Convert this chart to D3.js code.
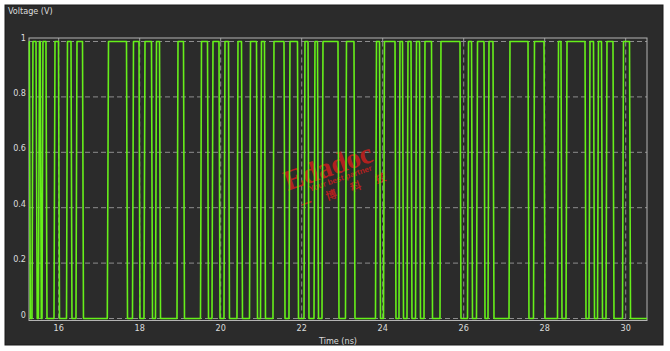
<!DOCTYPE html>
<html>
<head>
<meta charset="utf-8">
<script src="https://cdn.jsdelivr.net/npm/d3@7"></script>
<style>
  html, body { margin: 0; padding: 0; background: #ffffff; }
  svg { display: block; }
</style>
</head>
<body>
<div class="vis-wave"></div>
<script>
// time axis ticks (ns) and voltage ticks (V)
const xTicks = [16, 18, 20, 22, 24, 26, 28, 30];
const yTicks = [0, 0.2, 0.4, 0.6, 0.8, 1];
const timeRange = [15.267, 30.526];

// each pulse: [rise start (0V), top reached (1V), fall start (1V), back to 0V]  in ns
const pulses = [
  [15.267, 15.267, 15.275, 15.300],
  [15.341, 15.365, 15.440, 15.470],
  [15.500, 15.525, 15.545, 15.570],
  [15.588, 15.612, 15.686, 15.711],
  [15.884, 15.909, 15.995, 16.020],
  [16.193, 16.217, 16.304, 16.328],
  [16.427, 16.452, 16.588, 16.612],
  [17.200, 17.230, 17.674, 17.699],
  [17.822, 17.847, 17.983, 18.007],
  [18.106, 18.131, 18.291, 18.316],
  [18.390, 18.415, 18.489, 18.514],
  [18.921, 18.946, 19.081, 19.106],
  [19.501, 19.526, 19.674, 19.699],
  [19.785, 19.810, 19.958, 19.983],
  [20.081, 20.106, 20.193, 20.217],
  [20.402, 20.427, 20.514, 20.538],
  [20.711, 20.736, 20.884, 20.909],
  [20.983, 21.007, 21.081, 21.106],
  [21.291, 21.316, 21.563, 21.588],
  [21.686, 21.711, 21.896, 21.921],
  [22.057, 22.081, 22.156, 22.180],
  [22.304, 22.328, 22.390, 22.415],
  [22.501, 22.526, 22.896, 22.921],
  [23.081, 23.106, 23.291, 23.316],
  [23.822, 23.847, 23.921, 23.946],
  [24.020, 24.044, 24.304, 24.328],
  [24.402, 24.427, 24.489, 24.514],
  [24.600, 24.625, 24.699, 24.723],
  [24.810, 24.835, 24.909, 24.933],
  [25.020, 25.044, 25.205, 25.230],
  [25.415, 25.439, 25.909, 25.933],
  [26.094, 26.119, 26.193, 26.217],
  [26.316, 26.341, 26.501, 26.526],
  [26.600, 26.625, 26.723, 26.748],
  [27.119, 27.143, 27.588, 27.612],
  [27.723, 27.748, 27.983, 28.007],
  [28.316, 28.341, 28.402, 28.427],
  [28.526, 28.551, 28.995, 29.020],
  [29.094, 29.119, 29.205, 29.230],
  [29.304, 29.328, 29.402, 29.427],
  [29.514, 29.538, 29.686, 29.711],
  [29.921, 29.946, 30.094, 30.119]
];

const W = 670, H = 351;
const panel = { x: 5, y: 5, w: 658, h: 340 };
const plot = { left: 29, right: 647, top: 38, bottom: 320.5 };

const svg = d3.select('.vis-wave')
  .append('svg')
  .attr('width', W)
  .attr('height', H);

svg.append('rect')
  .attr('x', panel.x).attr('y', panel.y)
  .attr('width', panel.w).attr('height', panel.h)
  .attr('fill', '#2b2b2b')
  .attr('stroke', '#1a1a1a');

const x = d3.scaleLinear().domain(timeRange).range([plot.left, plot.right]);
const y = d3.scaleLinear().domain([0, 1]).range([318.5, 41.5]);

const font = '"DejaVu Sans Condensed", "Liberation Sans", sans-serif';

// grid
const grid = svg.append('g').attr('class', 'grid');
grid.selectAll('.hgrid')
  .data(yTicks)
  .join('line')
  .attr('x1', plot.left).attr('x2', plot.right)
  .attr('y1', d => y(d)).attr('y2', d => y(d))
  .attr('stroke', '#8e8e8e')
  .attr('stroke-dasharray', '5,3');
grid.selectAll('.vgrid')
  .data(xTicks)
  .join('line')
  .attr('x1', d => x(d)).attr('x2', d => x(d))
  .attr('y1', y(1)).attr('y2', plot.bottom)
  .attr('stroke', '#8e8e8e')
  .attr('stroke-dasharray', '5,3');
// short solid stubs above the top grid line
grid.selectAll('.vstub')
  .data(xTicks)
  .join('line')
  .attr('x1', d => x(d)).attr('x2', d => x(d))
  .attr('y1', plot.top).attr('y2', y(1))
  .attr('stroke', '#9a9a9a');

// frame
svg.append('rect')
  .attr('x', plot.left).attr('y', plot.top)
  .attr('width', plot.right - plot.left)
  .attr('height', plot.bottom - plot.top)
  .attr('fill', 'none')
  .attr('stroke', '#b4b4b4');

// watermark
const wm = svg.append('g')
  .attr('transform', 'translate(331,176) rotate(-19)')
  .attr('fill', '#c8201e')
  .attr('opacity', 0.85);
wm.append('text')
  .attr('x', 0).attr('y', 0)
  .attr('text-anchor', 'middle')
  .attr('font-family', '"Liberation Serif", serif')
  .attr('font-weight', 'bold')
  .attr('font-size', 29)
  .attr('textLength', 92)
  .text('Edadoc');
wm.append('text')
  .attr('x', 8).attr('y', 8)
  .attr('text-anchor', 'middle')
  .attr('font-family', '"Liberation Sans", sans-serif')
  .attr('font-weight', 'bold')
  .attr('font-size', 8)
  .text('Your best partner');
wm.selectAll('.cn')
  .data(['一', '博', '科', '技'])
  .join('text')
  .attr('x', (d, i) => -32 + i * 26)
  .attr('y', 22)
  .attr('text-anchor', 'middle')
  .attr('font-family', '"Noto Sans CJK SC", sans-serif')
  .attr('font-weight', 'bold')
  .attr('font-size', 11)
  .text(d => d);

// waveform
const pts = [];
pulses.forEach(p => {
  pts.push([p[0], 0], [p[1], 1], [p[2], 1], [p[3], 0]);
});
pts[0][1] = 1;
pts.push([timeRange[1], 0]);

const lineGen = d3.line()
  .x(d => x(d[0]))
  .y(d => y(d[1]));

svg.append('path')
  .attr('d', lineGen(pts))
  .attr('fill', 'none')
  .attr('stroke', '#66f01a')
  .attr('stroke-width', 1.6)
  .attr('stroke-linejoin', 'round');

// axes labels
svg.append('g')
  .selectAll('text')
  .data(yTicks)
  .join('text')
  .attr('x', 26)
  .attr('y', d => y(d) - 1)
  .attr('text-anchor', 'end')
  .attr('fill', '#dcdcdc')
  .attr('font-family', font)
  .attr('font-size', 9)
  .text(d => d3.format('~g')(d));

svg.append('g')
  .selectAll('text')
  .data(xTicks)
  .join('text')
  .attr('x', d => x(d))
  .attr('y', 331)
  .attr('text-anchor', 'middle')
  .attr('fill', '#dcdcdc')
  .attr('font-family', font)
  .attr('font-size', 9)
  .text(d => d);

svg.append('text')
  .attr('x', 338).attr('y', 344)
  .attr('text-anchor', 'middle')
  .attr('fill', '#dcdcdc')
  .attr('font-family', font)
  .attr('font-size', 9)
  .text('Time (ns)');

svg.append('text')
  .attr('x', 8).attr('y', 14)
  .attr('fill', '#dcdcdc')
  .attr('font-family', font)
  .attr('font-size', 9)
  .text('Voltage (V)');
</script>
</body>
</html>
